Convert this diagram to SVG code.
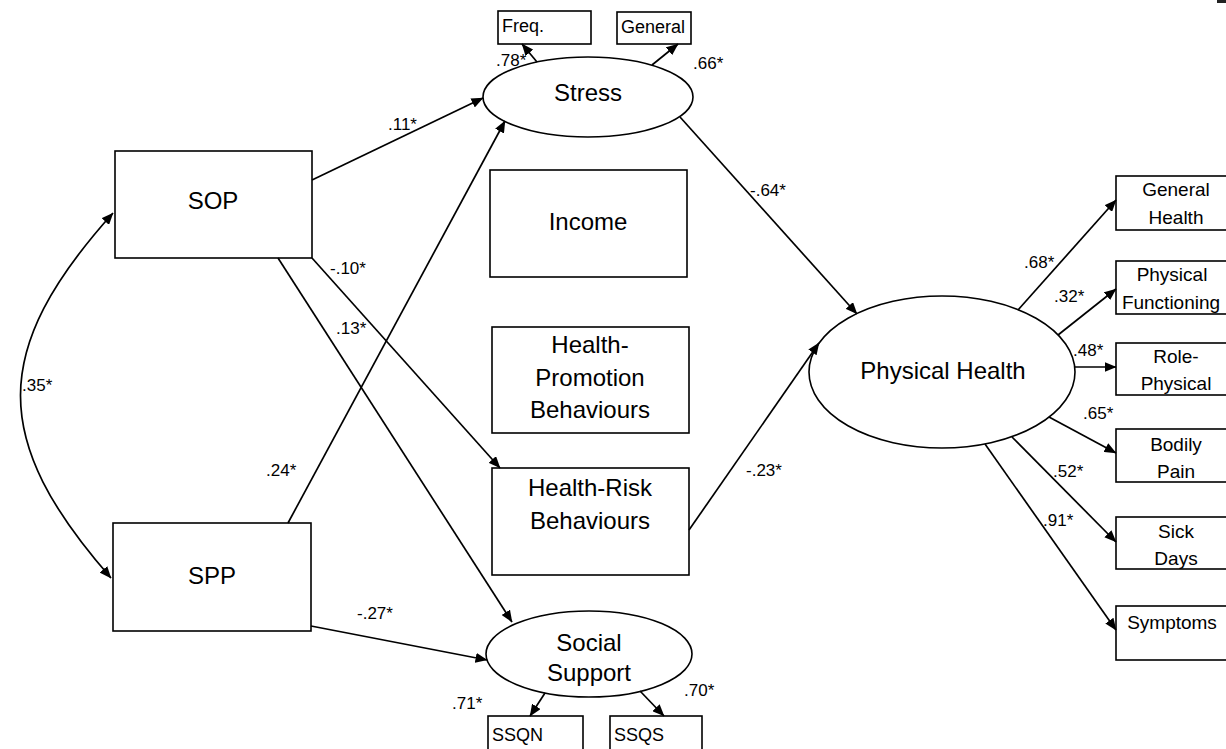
<svg xmlns="http://www.w3.org/2000/svg" width="1226" height="749" viewBox="0 0 1226 749">
  <style>
    .box { fill: #fff; stroke: #000; stroke-width: 1.6; }
    .lat { fill: #fff; stroke: #000; stroke-width: 1.6; }
    .big { font-family: "Liberation Sans", Arial, sans-serif; font-size: 24px; fill: #000; text-anchor: middle; }
    .ind { font-family: "Liberation Sans", Arial, sans-serif; font-size: 18px; fill: #000; }
    .ind2 { font-family: "Liberation Sans", Arial, sans-serif; font-size: 19px; fill: #000; text-anchor: middle; }
    .coef { font-family: "Liberation Sans", Arial, sans-serif; font-size: 17px; fill: #000; }
    .path { fill: none; stroke: #000; stroke-width: 1.7; marker-end: url(#arrow); }
  </style>
  <defs>
    <marker id="arrow" viewBox="0 0 12 10" refX="11.5" refY="5" markerWidth="12" markerHeight="10" markerUnits="userSpaceOnUse" orient="auto">
      <path d="M0,0 L12,5 L0,10 Z" fill="#000"/>
    </marker>
    <marker id="arrowStart" viewBox="0 0 12 10" refX="0.5" refY="5" markerWidth="12" markerHeight="10" markerUnits="userSpaceOnUse" orient="auto">
      <path d="M12,0 L0,5 L12,10 Z" fill="#000"/>
    </marker>
  </defs>

  <rect width="1226" height="749" fill="#fff"/>
  <rect x="1217" y="0" width="9" height="3" fill="#222"/>

  <!-- exogenous observed variables -->
  <g id="SOP">
    <rect class="box" x="115" y="151" width="197" height="107"/>
    <text class="big" x="213" y="209">SOP</text>
  </g>
  <g id="SPP">
    <rect class="box" x="113" y="523" width="198" height="108"/>
    <text class="big" x="212" y="584">SPP</text>
  </g>

  <!-- mediators -->
  <g id="Stress">
    <ellipse class="lat" cx="588" cy="97" rx="105" ry="40"/>
    <text class="big" x="588" y="101">Stress</text>
  </g>
  <g id="Income">
    <rect class="box" x="490" y="170" width="197" height="107"/>
    <text class="big" x="588" y="230">Income</text>
  </g>
  <g id="HealthPromotion">
    <rect class="box" x="492" y="327" width="197" height="106"/>
    <text class="big" x="590" y="353">Health-</text>
    <text class="big" x="590" y="386">Promotion</text>
    <text class="big" x="590" y="418">Behaviours</text>
  </g>
  <g id="HealthRisk">
    <rect class="box" x="492" y="468" width="197" height="107"/>
    <text class="big" x="590" y="496">Health-Risk</text>
    <text class="big" x="590" y="529">Behaviours</text>
  </g>
  <g id="SocialSupport">
    <ellipse class="lat" cx="589" cy="654" rx="103" ry="43"/>
    <text class="big" x="589" y="651">Social</text>
    <text class="big" x="589" y="681">Support</text>
  </g>

  <!-- outcome latent -->
  <g id="PhysicalHealth">
    <ellipse class="lat" cx="942" cy="372" rx="133" ry="76"/>
    <text class="big" x="943" y="379">Physical Health</text>
  </g>

  <!-- indicators -->
  <g id="Freq">
    <rect class="box" x="498" y="11" width="93" height="33"/>
    <text class="ind" x="502" y="32">Freq.</text>
  </g>
  <g id="GeneralStress">
    <rect class="box" x="617" y="12" width="74" height="32"/>
    <text class="ind" x="621" y="33">General</text>
  </g>
  <g id="SSQN">
    <rect class="box" x="488" y="716" width="95" height="40"/>
    <text class="ind" x="492" y="741">SSQN</text>
  </g>
  <g id="SSQS">
    <rect class="box" x="610" y="716" width="92" height="40"/>
    <text class="ind" x="614" y="741">SSQS</text>
  </g>
  <g id="GeneralHealth">
    <rect class="box" x="1116" y="176" width="120" height="54"/>
    <text class="ind2" x="1176" y="196">General</text>
    <text class="ind2" x="1176" y="224">Health</text>
  </g>
  <g id="PhysicalFunctioning">
    <rect class="box" x="1116" y="261" width="120" height="53"/>
    <text class="ind2" x="1172" y="281">Physical</text>
    <text class="ind2" x="1171" y="309">Functioning</text>
  </g>
  <g id="RolePhysical">
    <rect class="box" x="1116" y="343" width="120" height="52"/>
    <text class="ind2" x="1176" y="363">Role-</text>
    <text class="ind2" x="1176" y="390">Physical</text>
  </g>
  <g id="BodilyPain">
    <rect class="box" x="1116" y="429" width="120" height="53"/>
    <text class="ind2" x="1176" y="451">Bodily</text>
    <text class="ind2" x="1176" y="478">Pain</text>
  </g>
  <g id="SickDays">
    <rect class="box" x="1116" y="517" width="120" height="52"/>
    <text class="ind2" x="1176" y="538">Sick</text>
    <text class="ind2" x="1176" y="565">Days</text>
  </g>
  <g id="Symptoms">
    <rect class="box" x="1116" y="606" width="120" height="54"/>
    <text class="ind2" x="1172" y="629">Symptoms</text>
  </g>

  <!-- connectors -->
  <g id="connectors">
    <path class="path" d="M113,213 C-10,350 -10,440 111,578" marker-start="url(#arrowStart)"/>
    <line class="path" x1="312" y1="180" x2="483" y2="98"/>
    <line class="path" x1="288" y1="523" x2="505" y2="121"/>
    <line class="path" x1="312" y1="258" x2="500" y2="468"/>
    <line class="path" x1="278" y1="258" x2="512" y2="622"/>
    <line class="path" x1="311" y1="626" x2="487" y2="660"/>
    <line class="path" x1="680" y1="117" x2="857" y2="314"/>
    <line class="path" x1="689" y1="530" x2="819" y2="343"/>
    <line class="path" x1="537" y1="62" x2="522" y2="44"/>
    <line class="path" x1="652" y1="65" x2="678" y2="44"/>
    <line class="path" x1="545" y1="693" x2="530" y2="716"/>
    <line class="path" x1="640" y1="691" x2="664" y2="716"/>
    <line class="path" x1="1018" y1="310" x2="1116" y2="200"/>
    <line class="path" x1="1058" y1="335" x2="1116" y2="289"/>
    <line class="path" x1="1075" y1="367" x2="1116" y2="367"/>
    <line class="path" x1="1049" y1="417" x2="1116" y2="453"/>
    <line class="path" x1="1012" y1="437" x2="1116" y2="542"/>
    <line class="path" x1="985" y1="444" x2="1116" y2="630"/>
  </g>

  <!-- path coefficients -->
  <g id="coefficients" class="coef">
    <text x="388" y="130">.11*</text>
    <text x="750" y="196">-.64*</text>
    <text x="330" y="274">-.10*</text>
    <text x="336" y="334">.13*</text>
    <text x="22" y="391">.35*</text>
    <text x="266" y="476">.24*</text>
    <text x="746" y="476">-.23*</text>
    <text x="357" y="619">-.27*</text>
    <text x="452" y="709">.71*</text>
    <text x="684" y="696">.70*</text>
    <text x="496" y="66">.78*</text>
    <text x="693" y="69">.66*</text>
    <text x="1024" y="268">.68*</text>
    <text x="1054" y="302">.32*</text>
    <text x="1073" y="356">.48*</text>
    <text x="1083" y="419">.65*</text>
    <text x="1053" y="477">.52*</text>
    <text x="1043" y="526">.91*</text>
  </g>
</svg>
